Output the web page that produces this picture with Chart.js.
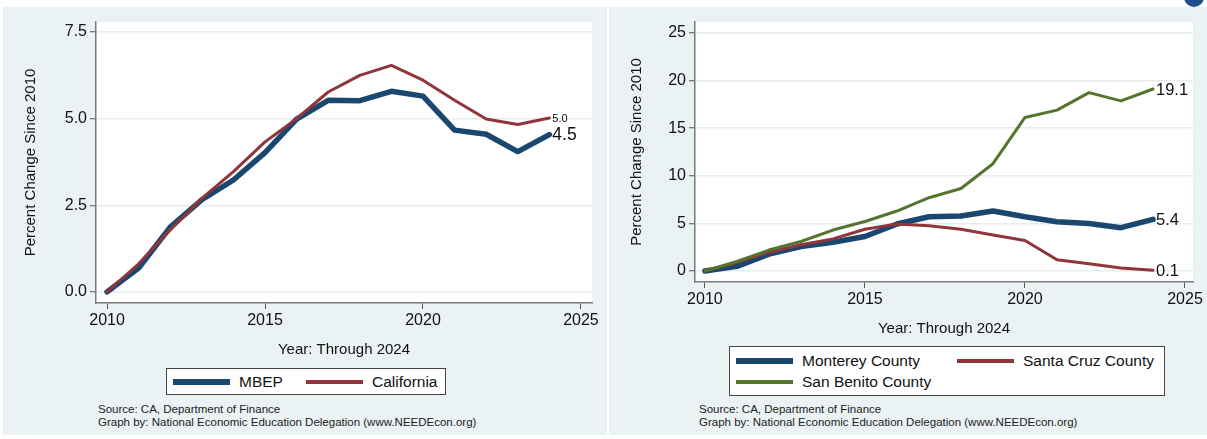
<!DOCTYPE html>
<html>
<head>
<meta charset="utf-8">
<script src="https://cdn.jsdelivr.net/npm/chart.js@4.4.1/dist/chart.umd.min.js"></script>
<style>
  body { margin: 0; width: 1207px; height: 439px; background: #fff; position: relative; overflow: hidden;
         font-family: 'Liberation Sans', Arial, sans-serif; color: #111; }
  .panel { position: absolute; top: 7px; height: 428px; background: #eaf2f3; }
  #leftPanel { left: 3px; width: 604px; }
  #rightPanel { left: 609px; width: 598px; }
  canvas { position: absolute; left: 0; top: 0; }
  .legend { position: absolute; background: #fff; border: 1px solid #444; box-sizing: border-box;
            display: grid; grid-auto-rows: 21px; align-content: center; padding-left: 6px; font-size: 15.5px; }
  .cell { display: flex; align-items: center; white-space: nowrap; }
  .sw { display: inline-block; width: 57px; margin-right: 9px; }
  .source { position: absolute; font-size: 11.5px; line-height: 12.5px; color: #222; white-space: nowrap; }
  #dot { position: absolute; left: 1184px; top: -13px; width: 20px; height: 20px; border-radius: 50%; background: #1f4e8c; }
</style>
</head>
<body>
<div class="panel" id="leftPanel">
  <canvas id="leftChart" width="601" height="360"></canvas>
  <div class="legend" id="leftLegend" style="left:163px; top:361px; width:280px; height:27px; grid-template-columns: repeat(2, 133px);"></div>
  <div class="source" style="left:95px; top:396px;">Source: CA, Department of Finance<br>Graph by: National Economic Education Delegation (www.NEEDEcon.org)</div>
</div>
<div class="panel" id="rightPanel">
  <canvas id="rightChart" width="598" height="340"></canvas>
  <div class="legend" id="rightLegend" style="left:120px; top:339px; width:436px; height:50px; grid-template-columns: repeat(2, 221px);"></div>
  <div class="source" style="left:90px; top:396px;">Source: CA, Department of Finance<br>Graph by: National Economic Education Delegation (www.NEEDEcon.org)</div>
</div>
<div id="dot"></div>
<script>
const FONT = "'Liberation Sans', Arial, sans-serif";

// Data
const years = [2010, 2011, 2012, 2013, 2014, 2015, 2016, 2017, 2018, 2019, 2020, 2021, 2022, 2023, 2024];
const xTicks = [2010, 2015, 2020, 2025];
const leftTicks = [0, 2.5, 5, 7.5];
const rightTicks = [0, 5, 10, 15, 20, 25];

const mbep       = [0, 0.69, 1.87, 2.66, 3.23, 4.02, 4.99, 5.53, 5.52, 5.79, 5.65, 4.67, 4.55, 4.05, 4.54];
const california = [0, 0.81, 1.79, 2.70, 3.47, 4.33, 5.00, 5.77, 6.25, 6.54, 6.11, 5.53, 4.99, 4.83, 5.02];

const monterey  = [0, 0.49, 1.77, 2.57, 3.02, 3.62, 4.94, 5.70, 5.77, 6.30, 5.70, 5.18, 5.00, 4.55, 5.42];
const santaCruz = [0, 0.90, 1.95, 2.75, 3.37, 4.38, 4.94, 4.76, 4.38, 3.79, 3.20, 1.18, 0.77, 0.31, 0.07];
const sanBenito = [0, 1.00, 2.20, 3.10, 4.30, 5.20, 6.30, 7.70, 8.66, 11.27, 16.13, 16.90, 18.74, 17.87, 19.12];

const NAVY = '#1a476f', MAROON = '#90353b', GREEN = '#55752f';

// White plot region + value labels at line ends
const plotBg = {
  id: 'plotBg',
  beforeDraw(chart) {
    const { ctx, chartArea: a } = chart;
    ctx.save();
    ctx.fillStyle = '#fff';
    ctx.fillRect(a.left, a.top, a.right - a.left, a.bottom - a.top);
    ctx.restore();
  }
};
const endLabels = {
  id: 'endLabels',
  afterDatasetsDraw(chart) {
    const ctx = chart.ctx;
    chart.data.datasets.forEach((ds, i) => {
      const meta = chart.getDatasetMeta(i);
      const pt = meta.data[meta.data.length - 1];
      const v = ds.data[ds.data.length - 1].y;
      ctx.save();
      ctx.font = ds.labelSize + 'px ' + FONT;
      ctx.fillStyle = '#111';
      ctx.textBaseline = 'middle';
      ctx.fillText(v.toFixed(1), pt.x + 3, pt.y + 1);
      ctx.restore();
    });
  }
};

function series(label, values, color, width, labelSize, order) {
  return {
    label: label,
    data: years.map((yr, i) => ({ x: yr, y: values[i] })),
    borderColor: color,
    borderWidth: width,
    borderCapStyle: 'round',
    borderJoinStyle: 'round',
    pointRadius: 0,
    tension: 0,
    labelSize: labelSize,
    order: order
  };
}

function makeChart(id, datasets, o) {
  return new Chart(document.getElementById(id), {
    type: 'line',
    data: { datasets: datasets },
    plugins: [plotBg, endLabels],
    options: {
      responsive: false,
      animation: false,
      layout: { padding: { left: 0, top: 15, right: o.padRight, bottom: 0 } },
      plugins: { legend: { display: false }, tooltip: { enabled: false } },
      scales: {
        x: {
          type: 'linear',
          min: o.xMin, max: o.xMax,
          afterBuildTicks: s => { s.ticks = xTicks.map(v => ({ value: v })); },
          afterFit: s => { s.height = o.xAxisHeight; },
          ticks: { color: '#111', font: { family: FONT, size: 16 }, padding: 2, maxRotation: 0,
                   callback: v => String(v) },
          grid: { drawOnChartArea: false, drawTicks: true, tickLength: 6, tickColor: '#555', tickWidth: 1 },
          border: { color: '#7a7a7a', width: 1.5 },
          title: { display: true, text: 'Year: Through 2024', color: '#111',
                   font: { family: FONT, size: 15 }, padding: { top: 0, bottom: o.xTitlePad } }
        },
        y: {
          type: 'linear',
          min: o.yMin, max: o.yMax,
          afterBuildTicks: s => { s.ticks = o.yTicks.map(v => ({ value: v })); },
          afterFit: s => { s.width = o.yAxisWidth; },
          ticks: { color: '#111', font: { family: FONT, size: 16 }, padding: 3,
                   callback: v => v.toFixed(o.yDecimals) },
          grid: { color: '#e4edf0', lineWidth: 1.5, tickLength: 6, tickColor: '#555', tickWidth: 1 },
          border: { color: '#7a7a7a', width: 1.5 },
          title: { display: true, text: 'Percent Change Since 2010', color: '#111',
                   font: { family: FONT, size: 15 }, padding: { top: 19, bottom: 0 } }
        }
      }
    }
  });
}

makeChart('leftChart', [
  series('MBEP', mbep, NAVY, 5.5, 17.5, 1),
  series('California', california, MAROON, 3, 11, 0)
], { xMin: 2009.65, xMax: 2025.35, yMin: -0.32, yMax: 7.79, yTicks: leftTicks, yDecimals: 1,
     yAxisWidth: 93, xAxisHeight: 64, padRight: 12, xTitlePad: 8 });

makeChart('rightChart', [
  series('Monterey County', monterey, NAVY, 5.5, 16.5, 2),
  series('Santa Cruz County', santaCruz, MAROON, 3, 16.5, 1),
  series('San Benito County', sanBenito, GREEN, 3, 16.5, 0)
], { xMin: 2009.69, xMax: 2025.25, yMin: -1.155, yMax: 26.155, yTicks: rightTicks, yDecimals: 0,
     yAxisWidth: 86, xAxisHeight: 65, padRight: 14, xTitlePad: 9 });

// HTML legends
function buildLegend(id, names, colors, thick) {
  const box = document.getElementById(id);
  names.forEach((n, i) => {
    const cell = document.createElement('div');
    cell.className = 'cell';
    cell.innerHTML = `<span class="sw" style="background:${colors[i]};height:${thick[i]}px"></span><span>${n}</span>`;
    box.appendChild(cell);
  });
}
buildLegend('leftLegend', ['MBEP', 'California'], [NAVY, MAROON], [6, 4]);
buildLegend('rightLegend', ['Monterey County', 'Santa Cruz County', 'San Benito County'], [NAVY, MAROON, GREEN], [6, 4, 4]);
</script>
</body>
</html>
